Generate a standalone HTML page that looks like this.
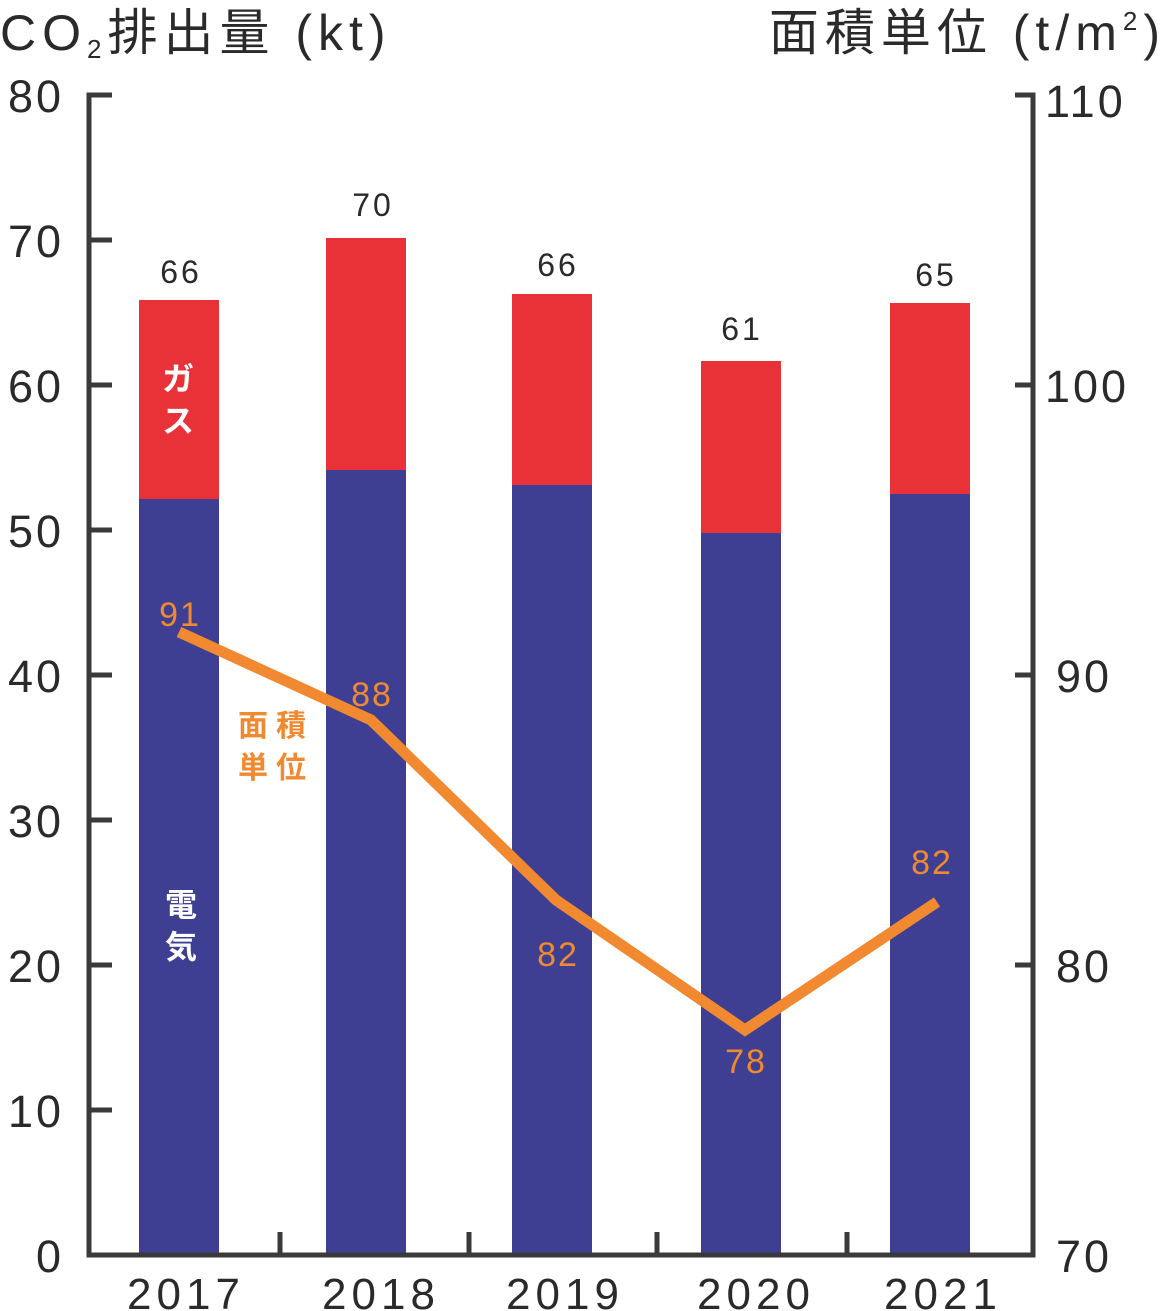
<!DOCTYPE html>
<html><head><meta charset="utf-8"><style>
html,body{margin:0;padding:0;background:#fff;width:1169px;height:1311px;overflow:hidden}
svg text{font-family:"Liberation Sans","Noto Sans CJK JP",sans-serif}
</style></head><body>
<svg width="1169" height="1311" viewBox="0 0 1169 1311" xmlns="http://www.w3.org/2000/svg">
<g fill="#3e3f93">
<rect x="139" y="499" width="80" height="756"/>
<rect x="326" y="470" width="80" height="785"/>
<rect x="512" y="485" width="80" height="770"/>
<rect x="701" y="533" width="80" height="722"/>
<rect x="890" y="494" width="80" height="761"/>
</g>
<g fill="#e93237">
<rect x="139" y="300" width="80" height="199"/>
<rect x="326" y="238" width="80" height="232"/>
<rect x="512" y="294" width="80" height="191"/>
<rect x="701" y="361" width="80" height="172"/>
<rect x="890" y="303" width="80" height="191"/>
</g>
<g stroke="#3a3a3a" stroke-width="5" fill="none">
<path d="M112 95H89V1255H1033V95H1015"/>
<path d="M89 240H112M89 385H112M89 530H112M89 675H112M89 820H112M89 965H112M89 1110H112"/>
<path d="M1033 385H1015M1033 675H1015M1033 965H1015"/>
<path d="M280 1255V1232M469 1255V1232M657 1255V1232M847 1255V1232"/>
</g>
<polyline points="179,632 371,720 556,900 745,1030 937,902" fill="none" stroke="#f0892f" stroke-width="11" stroke-linejoin="miter"/>
<g font-size="45" fill="#2a2a2a" text-anchor="end" letter-spacing="3">
<text x="64" y="112">80</text><text x="64" y="257">70</text><text x="64" y="402">60</text>
<text x="64" y="547">50</text><text x="64" y="692">40</text><text x="64" y="837">30</text>
<text x="64" y="982">20</text><text x="64" y="1127">10</text><text x="64" y="1272">0</text>
</g>
<g font-size="45" fill="#2a2a2a" letter-spacing="3">
<text x="1045" y="117">110</text><text x="1045" y="402">100</text>
<text x="1056" y="692">90</text><text x="1056" y="982">80</text><text x="1056" y="1272">70</text>
</g>
<g font-size="44" fill="#2a2a2a" text-anchor="middle" letter-spacing="5">
<text x="186" y="1309">2017</text><text x="381" y="1309">2018</text><text x="565" y="1309">2019</text>
<text x="756" y="1309">2020</text><text x="943" y="1309">2021</text>
</g>
<g font-size="32" fill="#2a2a2a" text-anchor="middle" letter-spacing="3">
<text x="181" y="283">66</text><text x="373" y="216">70</text><text x="558" y="276">66</text>
<text x="742" y="340">61</text><text x="936" y="286">65</text>
</g>
<g font-size="34" fill="#f0892f" text-anchor="middle" letter-spacing="2">
<text x="180" y="626">91</text><text x="372" y="706">88</text><text x="558" y="966">82</text>
<text x="746" y="1073">78</text><text x="932" y="874">82</text>
</g>
<g font-size="30" font-weight="bold" fill="#f0892f" letter-spacing="8">
<text x="238" y="736">面積</text><text x="238" y="778">単位</text>
</g>
<g font-size="32" font-weight="bold" fill="#fff" text-anchor="middle">
<text x="178" y="390">ガ</text><text x="178" y="432">ス</text>
<text x="181" y="916">電</text><text x="181" y="958">気</text>
</g>
<text x="0" y="50" font-size="50" fill="#2a2a2a" letter-spacing="6">CO<tspan font-size="26" dy="8">2</tspan><tspan dy="-8">排出量 (kt)</tspan></text>
<text x="1166" y="50" font-size="50" fill="#2a2a2a" text-anchor="end" letter-spacing="6">面積単位 (t/m<tspan font-size="26" dy="-20">2</tspan><tspan dy="20">)</tspan></text>
</svg>
</body></html>
